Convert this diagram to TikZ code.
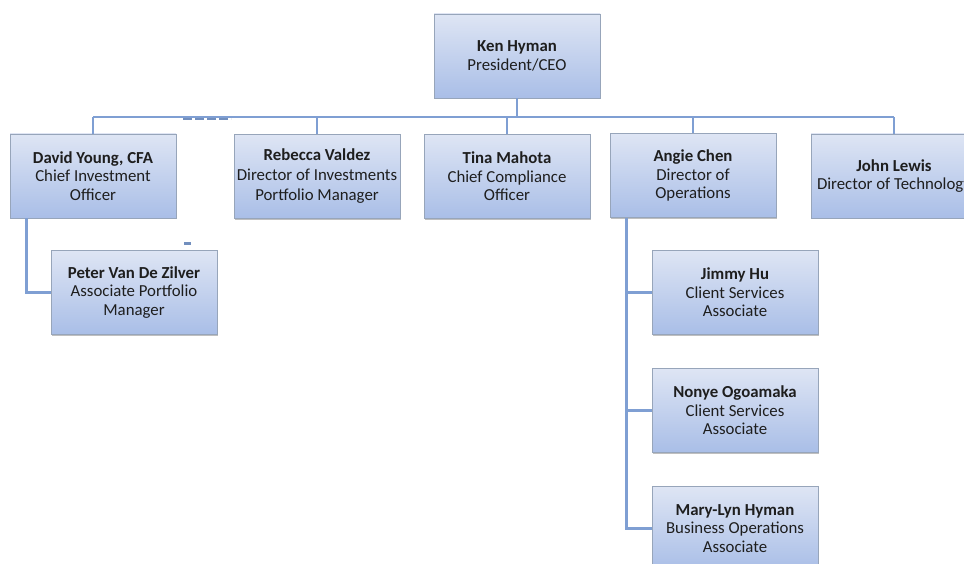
\documentclass[tikz,border=0pt]{standalone}
\usepackage{fontspec}
\setmainfont{Carlito}
\usetikzlibrary{calc,shadows}
\definecolor{boxtop}{HTML}{DEE5F4}
\definecolor{boxbot}{HTML}{A9BEE7}
\definecolor{boxline}{HTML}{97A5BA}
\definecolor{conn}{HTML}{7F9FD3}
\definecolor{txt}{HTML}{1E1E1E}
\tikzset{
  orgbox/.style={rectangle, minimum width=166pt, minimum height=84pt, inner sep=0pt,
    align=center, draw=boxline, line width=0.8pt, top color=boxtop, bottom color=boxbot,
    text=txt, font=\fontsize{16.8}{18.5}\selectfont,
    drop shadow={shadow xshift=1.2pt, shadow yshift=-1.5pt, opacity=0.25, fill=black}},
  link/.style={draw=conn, line width=2.8pt},
  artifact/.style={draw=conn!90!black, line width=2.5pt}
}
\begin{document}
\begin{tikzpicture}[x=1pt,y=-1pt]
\useasboundingbox (0,0) rectangle (964,564);
\clip (0,0) rectangle (964,564);
\fill[white] (0,0) rectangle (964,564);
% nodes
\node[orgbox] (ken)    at (517,56)  {\textbf{Ken Hyman}\\President/CEO};
\node[orgbox] (david)  at (93,176)  {\textbf{David Young, CFA}\\Chief Investment\\Officer};
\node[orgbox, font=\fontsize{16.8}{20}\selectfont] (rebecca) at (317,176.5) {\textbf{Rebecca Valdez}\\Director of Investments\\Portfolio Manager};
\node[orgbox] (tina)   at (507,176.5) {\textbf{Tina Mahota}\\Chief Compliance\\Officer};
\node[orgbox] (angie)  at (693,175.5) {\textbf{Angie Chen}\\Director of\\Operations};
\node[orgbox] (john)   at (894,176) {\textbf{John Lewis}\\Director of Technology};
\node[orgbox] (peter)  at (134,292.5) {\textbf{Peter Van De Zilver}\\Associate Portfolio\\Manager};
\node[orgbox] (jimmy)  at (735,292.5) {\textbf{Jimmy Hu}\\Client Services\\Associate};
\node[orgbox] (nonye)  at (735,410.5) {\textbf{Nonye Ogoamaka}\\Client Services\\Associate};
\node[orgbox] (mary)   at (735,528.5) {\textbf{Mary-Lyn Hyman}\\Business Operations\\Associate};
% bus
\coordinate (busL) at (93,117);
\coordinate (busR) at (894,117);
\draw[link] (busL) -- (busR);
\draw[link] (ken.south) -- (ken.south |- busL);
\foreach \n in {david,rebecca,tina,angie,john}
  \draw[link] (\n.north) -- (\n.north |- busL);
% sub branches
\coordinate (dtrunk) at ($(david.south west)+(17,0)$);
\draw[link] (dtrunk) |- (peter.west);
\coordinate (atrunk) at ($(angie.south west)+(17,0)$);
\draw[link] (atrunk) |- (mary.west);
\draw[link] (jimmy.west) -- (jimmy.west -| atrunk);
\draw[link] (nonye.west) -- (nonye.west -| atrunk);
% small rendering marks
\draw[artifact, dash pattern=on 9pt off 3pt] (183,119) -- (231,119);
\draw[artifact] (184,243.5) -- (191,243.5);
\end{tikzpicture}
\end{document}
